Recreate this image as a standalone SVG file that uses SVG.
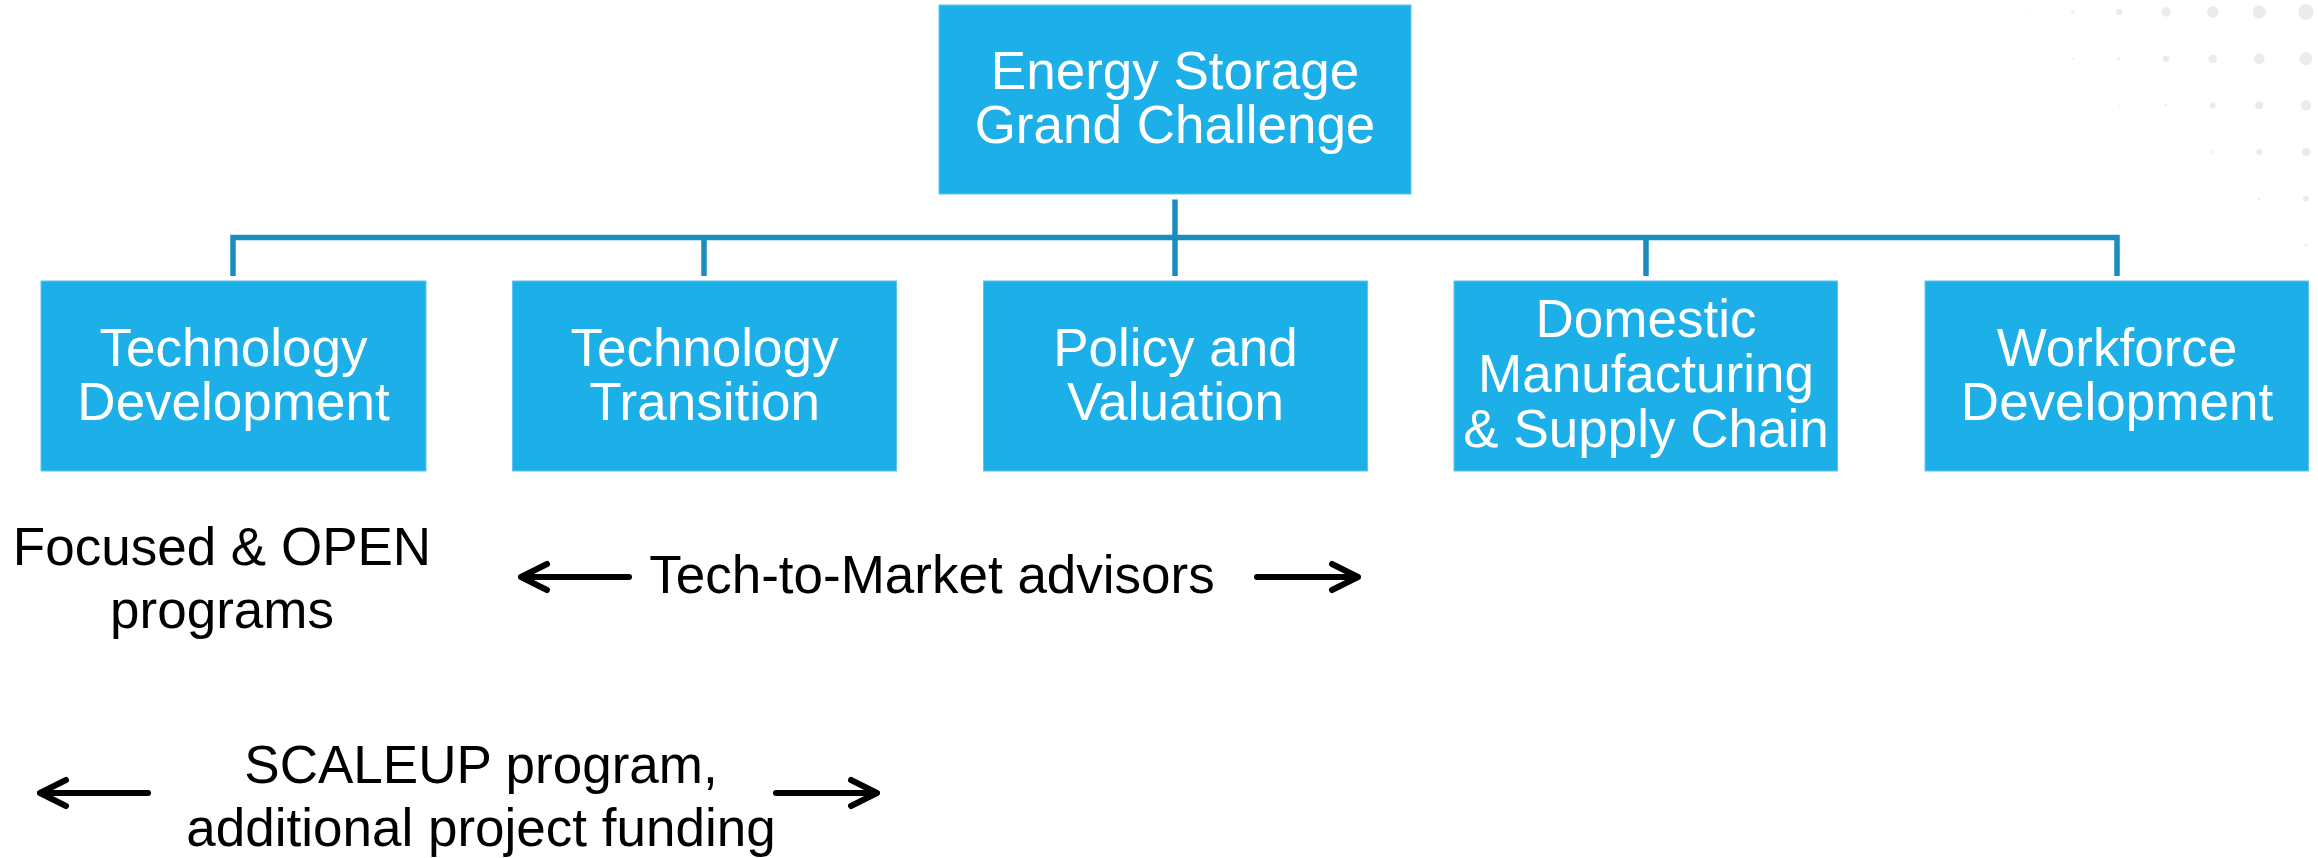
<svg xmlns="http://www.w3.org/2000/svg" width="2318" height="858" viewBox="0 0 2318 858">
  <style>
    .box { fill: #1DB0E8; stroke: #5CC6F0; stroke-width: 1; }
    .wt { fill: #FFFFFF; font-family: "Liberation Sans", Arial, sans-serif; font-size: 53px; text-anchor: middle; }
    .bt { fill: #000000; font-family: "Liberation Sans", Arial, sans-serif; font-size: 53px; text-anchor: middle; }
    .conn { fill: none; stroke: #1A8DBE; stroke-width: 5.5; }
    .arr { fill: none; stroke: #000000; stroke-width: 6; stroke-linecap: round; stroke-linejoin: round; }
    .dot { fill: #EBEBEB; }
  </style>

  <rect width="2318" height="858" fill="#FFFFFF"/>

  <!-- decorative dot grid, top right -->
  <g id="dots">
    <circle class="dot" cx="1979.3" cy="12" r="0.5"/>
    <circle class="dot" cx="2026" cy="12" r="0.8"/>
    <circle class="dot" cx="2072.7" cy="12" r="1.6"/>
    <circle class="dot" cx="2119.3" cy="12" r="3.3"/>
    <circle class="dot" cx="2166" cy="12" r="4.7"/>
    <circle class="dot" cx="2212.7" cy="12" r="5.7"/>
    <circle class="dot" cx="2259.3" cy="12" r="6.7"/>
    <circle class="dot" cx="2306" cy="12" r="7.7"/>

    <circle class="dot" cx="2026" cy="58.7" r="0.5"/>
    <circle class="dot" cx="2072.7" cy="58.7" r="1"/>
    <circle class="dot" cx="2119.3" cy="58.7" r="1.4"/>
    <circle class="dot" cx="2166" cy="58.7" r="3.3"/>
    <circle class="dot" cx="2212.7" cy="58.7" r="4.3"/>
    <circle class="dot" cx="2259.3" cy="58.7" r="5.3"/>
    <circle class="dot" cx="2306" cy="58.7" r="6.5"/>

    <circle class="dot" cx="2072.7" cy="105.3" r="0.5"/>
    <circle class="dot" cx="2119.3" cy="105.3" r="0.8"/>
    <circle class="dot" cx="2166" cy="105.3" r="1.3"/>
    <circle class="dot" cx="2212.7" cy="105.3" r="3"/>
    <circle class="dot" cx="2259.3" cy="105.3" r="4"/>
    <circle class="dot" cx="2306" cy="105.3" r="5.2"/>

    <circle class="dot" cx="2166" cy="152" r="0.7"/>
    <circle class="dot" cx="2212.7" cy="152" r="1.2"/>
    <circle class="dot" cx="2259.3" cy="152" r="3"/>
    <circle class="dot" cx="2306" cy="152" r="4"/>

    <circle class="dot" cx="2212.7" cy="198.7" r="0.6"/>
    <circle class="dot" cx="2259.3" cy="198.7" r="1.3"/>
    <circle class="dot" cx="2306" cy="198.7" r="3"/>

    <circle class="dot" cx="2259.3" cy="245.3" r="0.6"/>
    <circle class="dot" cx="2306" cy="245.3" r="1.2"/>
  </g>

  <!-- tree connectors -->
  <g id="connectors">
    <path class="conn" d="M233,276 V237.5 H2117 V276"/>
    <path class="conn" d="M1175,199.5 V276"/>
    <path class="conn" d="M704,237.5 V276"/>
    <path class="conn" d="M1646,237.5 V276"/>
  </g>

  <g id="root">
    <rect class="box" x="939" y="5" width="472" height="189"/>
    <text class="wt" x="1175" y="89">Energy Storage</text>
    <text class="wt" x="1175" y="143">Grand Challenge</text>
  </g>

  <g id="tech-development">
    <rect class="box" x="41" y="281" width="385" height="190"/>
    <text class="wt" x="233.5" y="366">Technology</text>
    <text class="wt" x="233.5" y="420">Development</text>
  </g>

  <g id="tech-transition">
    <rect class="box" x="512.5" y="281" width="384" height="190"/>
    <text class="wt" x="704.5" y="366">Technology</text>
    <text class="wt" x="704.5" y="420">Transition</text>
  </g>

  <g id="policy-valuation">
    <rect class="box" x="983.5" y="281" width="384" height="190"/>
    <text class="wt" x="1175.5" y="366">Policy and</text>
    <text class="wt" x="1175.5" y="420">Valuation</text>
  </g>

  <g id="manufacturing">
    <rect class="box" x="1454" y="281" width="383.5" height="190"/>
    <text class="wt" x="1646" y="337">Domestic</text>
    <text class="wt" x="1646" y="392">Manufacturing</text>
    <text class="wt" x="1646" y="447">&amp; Supply Chain</text>
  </g>

  <g id="workforce">
    <rect class="box" x="1925" y="281" width="383.5" height="190"/>
    <text class="wt" x="2117" y="366">Workforce</text>
    <text class="wt" x="2117" y="420">Development</text>
  </g>

  <!-- program labels -->
  <g id="focused-open">
    <text class="bt" x="222" y="565">Focused &amp; OPEN</text>
    <text class="bt" x="222" y="628">programs</text>
  </g>

  <g id="tech-to-market">
    <path class="arr" d="M629,577 H521 M547,564 L521,577 L547,590"/>
    <text class="bt" x="932" y="593">Tech-to-Market advisors</text>
    <path class="arr" d="M1257,577 H1358 M1332,564 L1358,577 L1332,590"/>
  </g>

  <g id="scaleup">
    <path class="arr" d="M148,793 H40 M66,780 L40,793 L66,806"/>
    <text class="bt" x="481" y="783">SCALEUP program,</text>
    <text class="bt" x="481" y="846">additional project funding</text>
    <path class="arr" d="M776,793 H877 M851,780 L877,793 L851,806"/>
  </g>
</svg>
